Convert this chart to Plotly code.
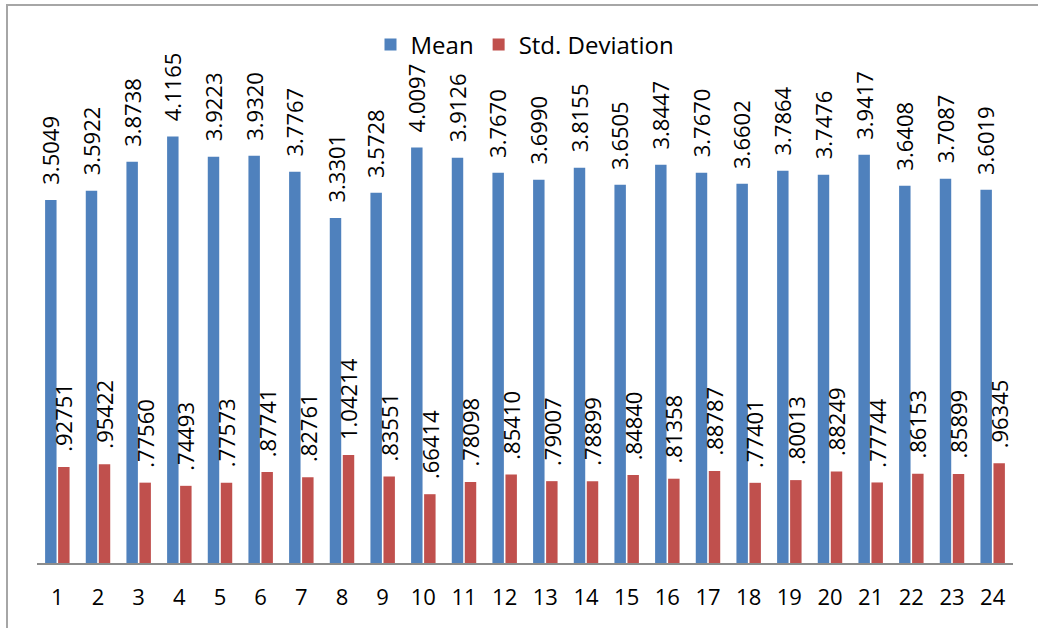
import plotly.graph_objects as go

# Item numbers and their summary statistics
items = [str(i) for i in range(1, 25)]
mean_vals = [3.5049, 3.5922, 3.8738, 4.1165, 3.9223, 3.9320, 3.7767, 3.3301,
             3.5728, 4.0097, 3.9126, 3.7670, 3.6990, 3.8155, 3.6505, 3.8447,
             3.7670, 3.6602, 3.7864, 3.7476, 3.9417, 3.6408, 3.7087, 3.6019]
std_vals = [0.92751, 0.95422, 0.77560, 0.74493, 0.77573, 0.87741, 0.82761, 1.04214,
            0.83551, 0.66414, 0.78098, 0.85410, 0.79007, 0.78899, 0.84840, 0.81358,
            0.88787, 0.77401, 0.80013, 0.88249, 0.77744, 0.86153, 0.85899, 0.96345]

BLUE = "#4F81BD"
RED = "#C0504D"
FONT = "Open Sans"
W, H = 1038, 628
ML, MR, MT, MB = 37, 25, 45, 65


def fmt_mean(v):
    return f"{v:.4f}"


def fmt_std(v):
    s = f"{v:.5f}"
    return s[1:] if s.startswith("0") else s


fig = go.Figure()
fig.add_trace(go.Bar(name="Mean", x=items, y=mean_vals, marker_color=BLUE,
                     marker_line_width=0))
fig.add_trace(go.Bar(name="Std. Deviation", x=items, y=std_vals, marker_color=RED,
                     marker_line_width=0))

# Value labels, rotated, sitting above each bar (category index positions)
annotations = []
for vals, fmt, dx in ((mean_vals, fmt_mean, -7), (std_vals, fmt_std, 6)):
    for i, v in enumerate(vals):
        annotations.append(dict(
            x=i, y=v, xref="x", yref="y", text=fmt(v), showarrow=False,
            textangle=-90, xanchor="center", yanchor="bottom",
            xshift=dx, yshift=13, font=dict(family=FONT, size=22, color="#000000"),
        ))

plot_h = H - MT - MB
plot_w = W - ML - MR
fig.update_layout(
    width=W, height=H,
    margin=dict(l=ML, r=MR, t=MT, b=MB, pad=0),
    paper_bgcolor="white", plot_bgcolor="white",
    barmode="group", bargap=0.36, bargroupgap=0.12,
    font=dict(family=FONT, size=22, color="#000000"),
    showlegend=True,
    legend=dict(orientation="h", x=0.5, xanchor="center", y=1.0, yanchor="middle",
                font=dict(family=FONT, size=24), bgcolor="rgba(0,0,0,0)",
                traceorder="normal", itemwidth=30),
    xaxis=dict(type="category", range=[-0.5, len(items) - 0.5],
               showline=True, linecolor="#8c8c8c", linewidth=2, ticks="",
               showgrid=False, tickfont=dict(family=FONT, size=22), ticklabelstandoff=14),
    yaxis=dict(range=[0, 5], visible=False, showgrid=False, zeroline=False),
    annotations=annotations,
    shapes=[dict(type="rect", xref="paper", yref="paper",
                 x0=(7 - ML) / plot_w, x1=(W + 20 - ML) / plot_w,
                 y0=-(H - MT - plot_h + 20) / plot_h, y1=1 + (MT - 5) / plot_h,
                 line=dict(color="#a6a6a6", width=2), layer="below")],
)

fig.write_html("out.html")
